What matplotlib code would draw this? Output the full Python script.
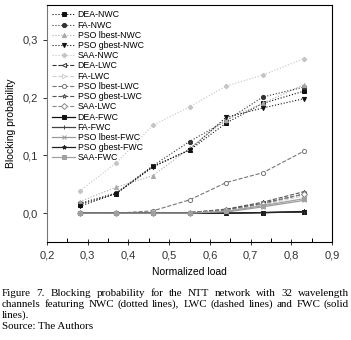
import matplotlib.pyplot as plt
from matplotlib.ticker import FuncFormatter, MultipleLocator

plt.rcParams['font.family'] = ['Liberation Sans', 'DejaVu Sans']

# normalized load
load = [0.28, 0.37, 0.46, 0.55, 0.64, 0.73, 0.83]

# NWC (dotted)
dea_nwc = [0.015, 0.034, 0.081, 0.109, 0.156, 0.190, 0.211]
fa_nwc = [0.017, 0.035, 0.082, 0.124, 0.160, 0.201, 0.218]
lbest_nwc = [0.020, 0.045, 0.065, 0.112, 0.162, 0.190, 0.222]
gbest_nwc = [0.012, 0.034, 0.080, 0.110, 0.166, 0.182, 0.198]
saa_nwc = [0.038, 0.087, 0.152, 0.184, 0.220, 0.239, 0.267]

# LWC (dashed)
dea_lwc = [0.0, 0.0, 0.0, 0.001, 0.006, 0.017, 0.033]
fa_lwc = [0.0, 0.0, 0.0, 0.0, 0.004, 0.014, 0.030]
lbest_lwc = [0.0, 0.0, 0.004, 0.023, 0.053, 0.070, 0.107]
gbest_lwc = [0.0, 0.0, 0.0, 0.001, 0.007, 0.019, 0.037]
saa_lwc = [0.0, 0.0, 0.0, 0.001, 0.005, 0.016, 0.033]

# FWC (solid)
dea_fwc = [0.0, 0.0, 0.0, 0.0, 0.0, 0.001, 0.002]
fa_fwc = [0.0, 0.0, 0.0, 0.0, 0.0, 0.001, 0.002]
lbest_fwc = [0.0, 0.0, 0.0, 0.0, 0.002, 0.011, 0.022]
gbest_fwc = [0.0, 0.0, 0.0, 0.0, 0.0, 0.001, 0.003]
saa_fwc = [0.0, 0.0, 0.0, 0.0, 0.003, 0.013, 0.025]

series = [
    ('DEA-NWC', dea_nwc, ':', 's', '#111111', True),
    ('FA-NWC', fa_nwc, ':', 'o', '#333333', True),
    ('PSO lbest-NWC', lbest_nwc, ':', '^', '#a8a8a8', True),
    ('PSO gbest-NWC', gbest_nwc, ':', 'v', '#111111', True),
    ('SAA-NWC', saa_nwc, ':', 'P', '#c4c4c4', True),
    ('DEA-LWC', dea_lwc, '--', '<', '#333333', False),
    ('FA-LWC', fa_lwc, '--', '>', '#cfcfcf', False),
    ('PSO lbest-LWC', lbest_lwc, '--', 'o', '#777777', False),
    ('PSO gbest-LWC', gbest_lwc, '--', '*', '#555555', False),
    ('SAA-LWC', saa_lwc, '--', 'D', '#888888', False),
    ('DEA-FWC', dea_fwc, '-', 's', '#111111', True),
    ('FA-FWC', fa_fwc, '-', '+', '#444444', True),
    ('PSO lbest-FWC', lbest_fwc, '-', 'x', '#9a9a9a', True),
    ('PSO gbest-FWC', gbest_fwc, '-', '*', '#222222', True),
    ('SAA-FWC', saa_fwc, '-', 's', '#a0a0a0', True),
]

fig = plt.figure(figsize=(3.51, 3.40), dpi=100)
ax = fig.add_axes([0.134, 0.288, 0.812, 0.697])

for name, vals, ls, mk, col, filled in series:
    ax.plot(load, vals, linestyle=ls, marker=mk, color=col, lw=0.9 if ls == '-' else 0.8,
            markersize=3, markerfacecolor=col if filled else 'white',
            markeredgecolor=col, markeredgewidth=0.7, label=name)

ax.set_xlim(0.2, 0.9)
ax.set_ylim(-0.05, 0.36)
ax.xaxis.set_major_locator(MultipleLocator(0.1))
ax.xaxis.set_minor_locator(MultipleLocator(0.05))
ax.yaxis.set_major_locator(MultipleLocator(0.1))
comma = FuncFormatter(lambda v, p: ('%.1f' % v).replace('.', ','))
ax.xaxis.set_major_formatter(comma)
ax.yaxis.set_major_formatter(comma)
ax.tick_params(axis='x', which='major', direction='inout', length=5, width=0.7, labelsize=8, colors='#333333')
ax.tick_params(axis='x', which='minor', direction='in', length=3, width=0.7)
ax.tick_params(axis='y', which='major', direction='out', length=3, width=0.7, labelsize=8, colors='#333333')
for s in ax.spines.values():
    s.set_linewidth(0.8)
ax.spines['left'].set_color('#777777')

ax.set_xlabel('Normalized load', fontsize=7.5, labelpad=5)
ax.set_ylabel('Blocking probability', fontsize=7.5, labelpad=5)

ax.legend(loc='upper left', frameon=False, fontsize=6.3, labelspacing=0.14,
          handlelength=2.6, handletextpad=0.3, borderaxespad=0.2,
          bbox_to_anchor=(0.0, 1.0))

# caption, justified by hand
caption = [
    ('Figure 7. Blocking probability for the NTT network with 32 wavelength', True),
    ('channels featuring NWC (dotted lines), LWC (dashed lines) and FWC (solid', True),
    ('lines).', False),
    ('Source: The Authors', False),
]
cap_font = dict(family=['Liberation Serif', 'DejaVu Serif'], fontsize=7.9, color='black')
fig.canvas.draw()
r = fig.canvas.get_renderer()
x0, x1 = 2 / 351, 349 / 351
y = 1 - 296 / 340
for line, justify in caption:
    if not justify:
        fig.text(x0, y, line, va='baseline', **cap_font)
    else:
        words = line.split(' ')
        ts = [fig.text(0, 0, w, va='baseline', **cap_font) for w in words]
        widths = [t.get_window_extent(r).width / fig.bbox.width for t in ts]
        gap = (x1 - x0 - sum(widths)) / (len(words) - 1)
        xx = x0
        for t, w in zip(ts, widths):
            t.set_position((xx, y))
            xx += w + gap
    y -= 11 / 340

fig.savefig('out.png', dpi=100)
